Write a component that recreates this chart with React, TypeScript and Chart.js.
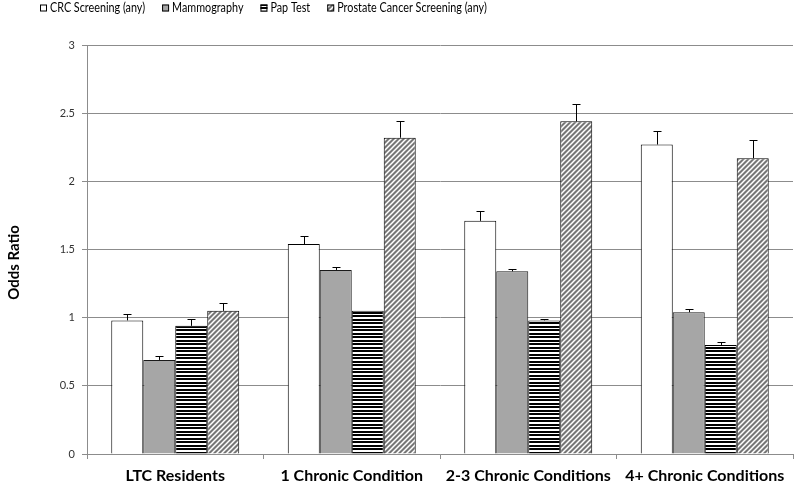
import React, { useEffect, useRef } from 'react';
import { Chart, registerables } from 'chart.js';

Chart.register(...registerables);

const categories = ['LTC Residents', '1 Chronic Condition', '2-3 Chronic Conditions', '4+ Chronic Conditions'];
const seriesLabels = ['CRC Screening (any)', 'Mammography', 'Pap Test', 'Prostate Cancer Screening (any)'];

const crcValues = [0.98, 1.54, 1.71, 2.27];
const crcUpper = [1.03, 1.6, 1.78, 2.37];
const mammoValues = [0.69, 1.35, 1.34, 1.04];
const mammoUpper = [0.72, 1.37, 1.36, 1.06];
const papValues = [0.94, 1.05, 0.98, 0.8];
const papUpper = [0.99, 1.05, 0.99, 0.82];
const prostateValues = [1.05, 2.32, 2.44, 2.17];
const prostateUpper = [1.11, 2.44, 2.57, 2.3];

const yMin = 0;
const yMax = 3;
const yStep = 0.5;
const yTitle = 'Odds Ratio';

const upperArrays = [crcUpper, mammoUpper, papUpper, prostateUpper];

const GRID = '#8c8c8c';
const LEGEND_FONT = '13px Lato, "Open Sans", sans-serif';
const LEGEND_SQUEEZE = 0.83;
const TITLE_FONT = 'bold 15px Lato, "Open Sans", sans-serif';

function makeStripePattern(ctx: CanvasRenderingContext2D): CanvasPattern {
  const c = document.createElement('canvas');
  c.width = 4;
  c.height = 7;
  const g = c.getContext('2d')!;
  g.fillStyle = '#ffffff';
  g.fillRect(0, 0, 4, 7);
  g.fillStyle = '#000000';
  g.fillRect(0, 0, 4, 2);
  g.fillRect(0, 4, 4, 2);
  return ctx.createPattern(c, 'repeat')!;
}

function makeHatchPattern(ctx: CanvasRenderingContext2D): CanvasPattern {
  const c = document.createElement('canvas');
  c.width = 5;
  c.height = 5;
  const g = c.getContext('2d')!;
  g.fillStyle = '#767676';
  g.fillRect(0, 0, 5, 5);
  g.strokeStyle = '#ffffff';
  g.lineWidth = 1.5;
  g.beginPath();
  g.moveTo(-1, 6);
  g.lineTo(6, -1);
  g.moveTo(-2, 2);
  g.lineTo(2, -2);
  g.moveTo(3, 7);
  g.lineTo(7, 3);
  g.stroke();
  return ctx.createPattern(c, 'repeat')!;
}

const errorBarPlugin = {
  id: 'errorBars',
  afterDatasetsDraw(chart: any) {
    const ctx = chart.ctx as CanvasRenderingContext2D;
    const yScale = chart.scales.y;
    chart.data.datasets.forEach((_ds: any, di: number) => {
      const meta = chart.getDatasetMeta(di);
      const uppers = upperArrays[di];
      meta.data.forEach((bar: any, i: number) => {
        const top = bar.y;
        const yErr = yScale.getPixelForValue(uppers[i]);
        if (top - yErr < 0.5) return;
        const x = Math.round(bar.x) + 0.5;
        ctx.save();
        ctx.strokeStyle = '#000000';
        ctx.lineWidth = 1;
        ctx.beginPath();
        ctx.moveTo(x, top);
        ctx.lineTo(x, Math.round(yErr) + 0.5);
        ctx.moveTo(x - 4, Math.round(yErr) + 0.5);
        ctx.lineTo(x + 4, Math.round(yErr) + 0.5);
        ctx.stroke();
        ctx.restore();
      });
    });
  },
};

const customLegendPlugin = {
  id: 'customLegend',
  afterDraw(chart: any) {
    const ctx = chart.ctx as CanvasRenderingContext2D;
    ctx.save();
    ctx.font = LEGEND_FONT;
    ctx.textBaseline = 'middle';
    ctx.textAlign = 'left';
    let x = 40;
    const cy = 8;
    chart.data.datasets.forEach((ds: any) => {
      ctx.fillStyle = ds.backgroundColor;
      ctx.fillRect(x, cy - 3.5, 7, 7);
      ctx.strokeStyle = '#000000';
      ctx.lineWidth = 1;
      ctx.strokeRect(x + 0.5, cy - 3, 6, 6);
      ctx.fillStyle = '#000000';
      const tx = x + 10;
      ctx.save();
      ctx.translate(tx, cy);
      ctx.scale(LEGEND_SQUEEZE, 1);
      ctx.fillText(ds.label, 0, 0);
      ctx.restore();
      x = tx + ctx.measureText(ds.label).width * LEGEND_SQUEEZE + 17;
    });
    // y axis title
    const area = chart.chartArea;
    ctx.font = TITLE_FONT;
    ctx.textAlign = 'center';
    ctx.translate(14, (area.top + area.bottom) / 2 + 13);
    ctx.rotate(-Math.PI / 2);
    ctx.fillStyle = '#000000';
    ctx.fillText(yTitle, 0, 0);
    ctx.restore();
  },
};

export default function App() {
  const canvasRef = useRef<HTMLCanvasElement | null>(null);

  useEffect(() => {
    document.body.style.margin = '0';
    const canvas = canvasRef.current!;
    const ctx = canvas.getContext('2d')!;
    const stripe = makeStripePattern(ctx);
    const hatch = makeHatchPattern(ctx);

    const chart = new Chart(canvas, {
      type: 'bar',
      data: {
        labels: categories,
        datasets: [
          { label: seriesLabels[0], data: crcValues, backgroundColor: '#ffffff', borderColor: '#000000', borderWidth: 1 },
          { label: seriesLabels[1], data: mammoValues, backgroundColor: '#a6a6a6', borderColor: '#1a1a1a', borderWidth: 1 },
          { label: seriesLabels[2], data: papValues, backgroundColor: stripe as any, borderColor: '#000000', borderWidth: 1 },
          { label: seriesLabels[3], data: prostateValues, backgroundColor: hatch as any, borderColor: '#000000', borderWidth: 1 },
        ],
      },
      options: {
        animation: false,
        responsive: false,
        devicePixelRatio: 1,
        layout: { padding: { top: 45, right: 7, left: 0, bottom: 0 } },
        datasets: { bar: { categoryPercentage: 0.725, barPercentage: 1 } },
        plugins: {
          legend: { display: false },
          tooltip: { enabled: false },
        },
        scales: {
          x: {
            grid: { offset: true, drawOnChartArea: false, drawTicks: true, tickLength: 5, color: GRID },
            border: { color: GRID },
            ticks: {
              color: '#000000',
              font: { family: 'Lato, "Open Sans", sans-serif', size: 16, weight: 'bold' },
              padding: 7,
              maxRotation: 0,
            },
            afterFit: (scale: any) => {
              scale.height = 32;
            },
          },
          y: {
            min: yMin,
            max: yMax,
            grid: { color: GRID, tickLength: 5, drawTicks: true },
            border: { color: GRID },
            ticks: {
              stepSize: yStep,
              color: '#333333',
              font: { family: 'Lato, "Open Sans", sans-serif', size: 11 },
              padding: 7,
              callback: (v: any) => String(Number(v)),
            },
            afterFit: (scale: any) => {
              scale.width = 87;
            },
          },
        },
      },
      plugins: [errorBarPlugin, customLegendPlugin],
    });
    return () => chart.destroy();
  }, []);

  return (
    <div style={{ width: 800, height: 486, background: '#ffffff' }}>
      <canvas ref={canvasRef} width={800} height={486} style={{ display: 'block' }} />
    </div>
  );
}
